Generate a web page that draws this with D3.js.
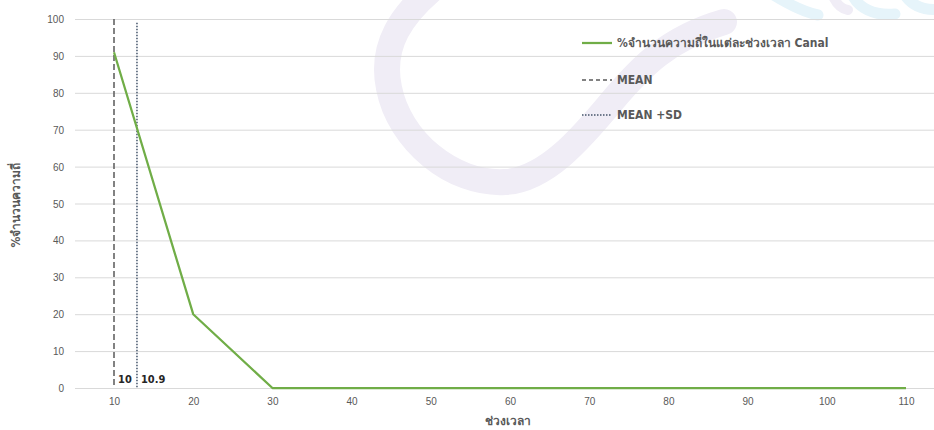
<!DOCTYPE html>
<html>
<head>
<meta charset="utf-8">
<script src="https://cdn.jsdelivr.net/npm/d3@7"></script>
<style>
  html, body { margin: 0; padding: 0; background: #fff; }
  svg { display: block; font-family: "DejaVu Sans Condensed", "Noto Sans", "DejaVu Sans", sans-serif; }
</style>
</head>
<body>
<svg id="chart" width="934" height="430"></svg>
<script>
// ---- data ----
const categories = [10, 20, 30, 40, 50, 60, 70, 80, 90, 100, 110];
const percentValues = [91, 20, 0, 0, 0, 0, 0, 0, 0, 0, 0];
const yTicks = [0, 10, 20, 30, 40, 50, 60, 70, 80, 90, 100];
const refLineLabels = ["10", "10.9"];
const refLinePositions = [10, 12.9];
const legendLabels = ["%จำนวนความถี่ในแต่ละช่วงเวลา Canal", "MEAN", "MEAN +SD"];
const yTitle = "%จำนวนความถี่";
const xTitle = "ช่วงเวลา";

// ---- setup ----
const svg = d3.select("#chart");
const plot = { left: 75, right: 934, top: 19, bottom: 388 };

const x = d3.scaleLinear().domain([10, 110]).range([114, 906]);
const y = d3.scaleLinear().domain([0, 100]).range([plot.bottom, plot.top]);

const textGray = "#595959";

// faint background watermark (decorative)
const wm = svg.append("g");
wm.append("path")
  .attr("d", "M 436,-14 C 402,14 380,45 389,88 C 399,140 452,185 505,182 C 545,180 580,140 613,100 C 640,68 668,38 724,22")
  .attr("fill", "none").attr("stroke", "#F0EDF6").attr("stroke-width", 26).attr("stroke-linecap", "round");
const blue = "#E6F4FA";
wm.append("path").attr("d", "M 772,-6 C 788,4 804,12 818,15")
  .attr("fill", "none").attr("stroke", blue).attr("stroke-width", 11).attr("stroke-linecap", "round");
wm.append("path").attr("d", "M 832,-6 C 836,4 842,9 848,10")
  .attr("fill", "none").attr("stroke", "#F0EDF6").attr("stroke-width", 10).attr("stroke-linecap", "round");
wm.append("path").attr("d", "M 852,-6 C 858,8 874,16 895,14")
  .attr("fill", "none").attr("stroke", blue).attr("stroke-width", 11).attr("stroke-linecap", "round");
wm.append("path").attr("d", "M 904,-6 C 912,6 924,11 940,9")
  .attr("fill", "none").attr("stroke", blue).attr("stroke-width", 11).attr("stroke-linecap", "round");

// gridlines
svg.append("g")
  .selectAll("line").data(yTicks).join("line")
  .attr("x1", plot.left).attr("x2", plot.right)
  .attr("y1", d => y(d) + 0.5).attr("y2", d => y(d) + 0.5)
  .attr("stroke", "#D9D9D9").attr("stroke-width", 1);

// y axis labels
const yAxis = d3.axisLeft(y).tickValues(yTicks).tickSize(0).tickPadding(0);
const gy = svg.append("g").attr("transform", "translate(64,0)").call(yAxis);
gy.select(".domain").remove();
gy.selectAll("text").attr("fill", textGray).style("font-size", "10px").attr("dy", "0.35em");

// x axis labels
const xAxis = d3.axisBottom(x).tickValues(categories).tickSize(0).tickPadding(0).tickFormat(d3.format("d"));
const gx = svg.append("g").attr("transform", "translate(0,398)").call(xAxis);
gx.select(".domain").remove();
gx.selectAll("text").attr("fill", textGray).style("font-size", "10px").attr("dy", "0.71em");

// axis titles
svg.append("text")
  .attr("transform", "translate(20,205) rotate(-90)")
  .attr("text-anchor", "middle")
  .attr("fill", textGray).style("font-size", "12px").style("font-weight", "bold")
  .text(yTitle);
svg.append("text")
  .attr("x", 508).attr("y", 425)
  .attr("text-anchor", "middle")
  .attr("fill", textGray).style("font-size", "12px").style("font-weight", "bold")
  .text(xTitle);

// reference lines
const refStyles = [
  { color: "#595959", dash: "6,3", top: 100 },
  { color: "#44546A", dash: "1.5,1.5", top: 99 }
];
refLinePositions.forEach((p, i) => {
  svg.append("line")
    .attr("x1", x(p)).attr("x2", x(p))
    .attr("y1", y(refStyles[i].top)).attr("y2", y(0))
    .attr("stroke", refStyles[i].color)
    .attr("stroke-width", 1.5)
    .attr("stroke-dasharray", refStyles[i].dash);
  svg.append("text")
    .attr("x", x(p) + 4).attr("y", y(0) - 5)
    .attr("fill", "#262626").style("font-size", "11px").style("font-weight", "bold")
    .text(refLineLabels[i]);
});

// green series line
const line = d3.line().x((d, i) => x(categories[i])).y(d => y(d));
svg.append("path")
  .datum(percentValues)
  .attr("d", line)
  .attr("fill", "none")
  .attr("stroke", "#70AD47")
  .attr("stroke-width", 2.25)
  .attr("stroke-linejoin", "round");

// legend
const legendStyles = [
  { color: "#70AD47", dash: null, width: 2.25 },
  { color: "#595959", dash: "4,3", width: 1.5 },
  { color: "#44546A", dash: "1.5,1.5", width: 1.5 }
];
const legendY = [43, 80, 115];
const lg = svg.append("g");
legendLabels.forEach((lab, i) => {
  lg.append("line")
    .attr("x1", 582).attr("x2", 612)
    .attr("y1", legendY[i]).attr("y2", legendY[i])
    .attr("stroke", legendStyles[i].color)
    .attr("stroke-width", legendStyles[i].width)
    .attr("stroke-dasharray", legendStyles[i].dash);
  lg.append("text")
    .attr("x", 617).attr("y", legendY[i]).attr("dy", "0.35em")
    .attr("fill", textGray).style("font-size", "12px").style("font-weight", "bold")
    .text(lab);
});
</script>
</body>
</html>
